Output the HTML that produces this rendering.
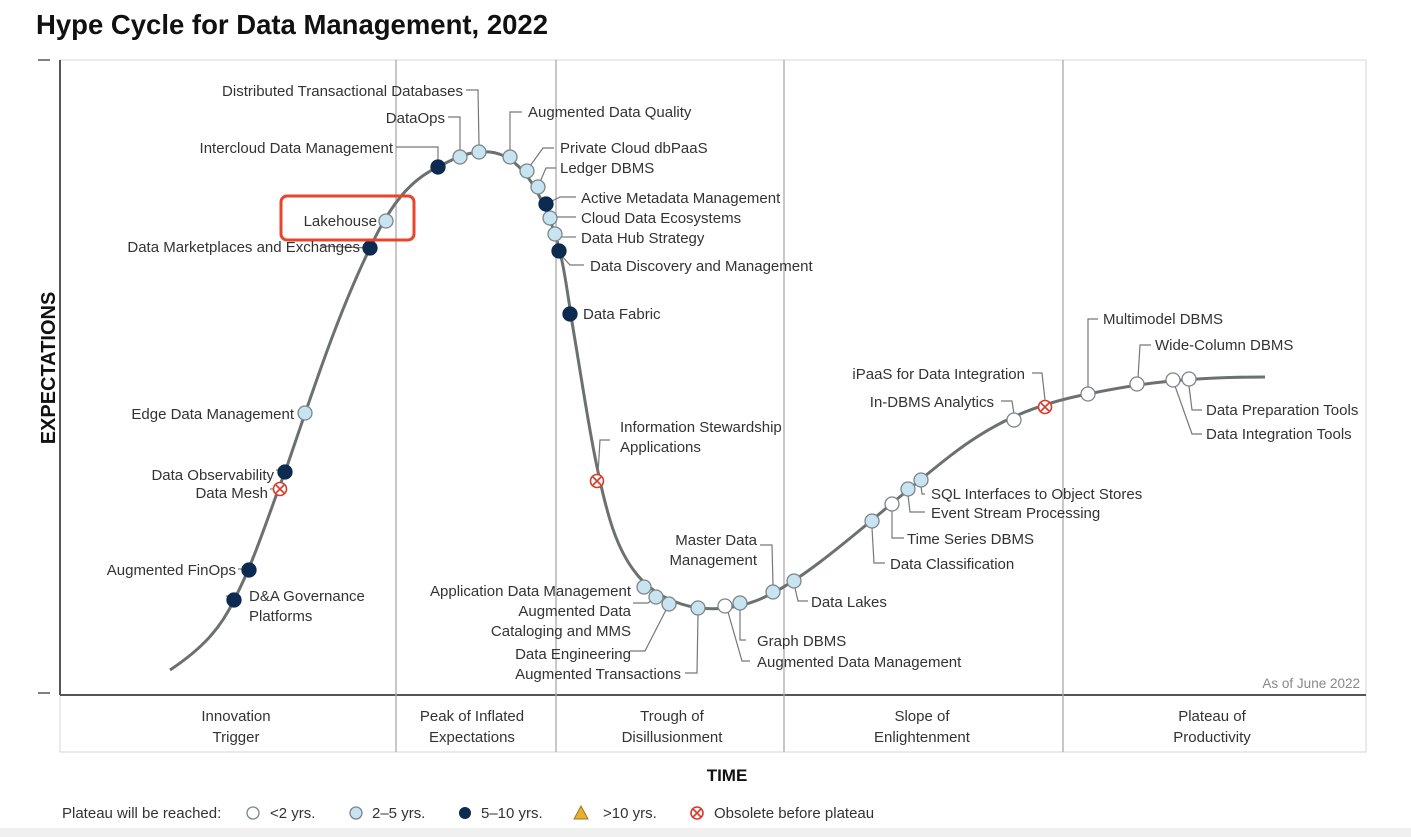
<!DOCTYPE html>
<html><head><meta charset="utf-8"><style>
html,body{margin:0;padding:0;background:#fff}
svg{display:block}
text{font-family:"Liberation Sans",sans-serif;fill:#333;font-size:15px}
.r{text-anchor:end}
.m{text-anchor:middle}
.l{fill:none;stroke:#777;stroke-width:1.2}
</style></head><body>
<svg width="1411" height="837" viewBox="0 0 1411 837" xmlns="http://www.w3.org/2000/svg">
<rect width="1411" height="837" fill="#fff"/>
<rect x="0" y="828" width="1411" height="9" fill="#f0f0f0"/>
<text x="36" y="34" style="font-size:27.5px;font-weight:bold;fill:#111">Hype Cycle for Data Management, 2022</text>
<rect x="60" y="60" width="1306" height="692" fill="none" stroke="#d6d6d6" stroke-width="1"/>
<line x1="60" y1="60" x2="60" y2="695" stroke="#555" stroke-width="2"/>
<line x1="60" y1="695" x2="1366" y2="695" stroke="#555" stroke-width="2"/>
<line x1="38" y1="60" x2="50" y2="60" stroke="#555" stroke-width="1.5"/>
<line x1="38" y1="693" x2="50" y2="693" stroke="#555" stroke-width="1.5"/>
<g stroke="#aaa" stroke-width="1.3">
<line x1="396" y1="60" x2="396" y2="752"/><line x1="556" y1="60" x2="556" y2="752"/>
<line x1="784" y1="60" x2="784" y2="752"/><line x1="1063" y1="60" x2="1063" y2="752"/>
</g>
<text x="1360" y="688" class="r" style="fill:#888;font-size:13.5px">As of June 2022</text>
<g style="fill:#444">
<text x="236" y="721" class="m">Innovation</text><text x="236" y="742" class="m">Trigger</text>
<text x="472" y="721" class="m">Peak of Inflated</text><text x="472" y="742" class="m">Expectations</text>
<text x="672" y="721" class="m">Trough of</text><text x="672" y="742" class="m">Disillusionment</text>
<text x="922" y="721" class="m">Slope of</text><text x="922" y="742" class="m">Enlightenment</text>
<text x="1212" y="721" class="m">Plateau of</text><text x="1212" y="742" class="m">Productivity</text>
</g>
<text x="727" y="781" class="m" style="font-size:17px;font-weight:bold;fill:#111">TIME</text>
<text transform="translate(55,368) rotate(-90)" class="m" style="font-size:20px;font-weight:bold;fill:#111">EXPECTATIONS</text>
<path d="M170,670 C200,650 220,630 234,600 C255,560 270,510 285,472 C310,400 335,320 370,248 C390,205 410,180 438,167 C455,158 470,150 490,152 C520,155 540,190 555,234 C565,265 568,300 575,340 C585,400 595,470 610,520 C625,570 650,600 698,608 C740,612 770,600 820,562 C860,532 900,495 950,456 C990,425 1030,405 1088,394 C1140,383 1190,377 1265,377" fill="none" stroke="#6b716f" stroke-width="3"/>
<g class="l">
<polyline points="276,470 285,470"/>
<polyline points="270,489 280,489"/>
<polyline points="238,569 249,569"/>
<polyline points="320,246 370,248"/>
<polyline points="396,147 438,147 438,160"/>
<polyline points="448,117 460,117 460,150"/>
<polyline points="466,90 478,90 479,145"/>
<polyline points="522,112 510,112 510,150"/>
<polyline points="554,148 543,148 530,166"/>
<polyline points="556,168 546,168 540,182"/>
<polyline points="576,197 560,197 548,203"/>
<polyline points="576,217 556,217"/>
<polyline points="576,237 561,237"/>
<polyline points="584,265 570,265 561,255"/>
<polyline points="610,440 600,440 598,474"/>
<polyline points="760,545 772,545 773,585"/>
<polyline points="633,603 648,603 654,598"/>
<polyline points="630,651 645,651 667,608"/>
<polyline points="685,673 697,673 698,614"/>
<polyline points="746,640 740,640 740,610"/>
<polyline points="750,661 742,661 728,612"/>
<polyline points="808,601 798,601 795,588"/>
<polyline points="885,563 874,563 872,528"/>
<polyline points="904,538 892,538 892,510"/>
<polyline points="925,512 910,512 908,495"/>
<polyline points="925,494 922,494 921,486"/>
<polyline points="1001,401 1012,401 1014,414"/>
<polyline points="1032,373 1042,373 1045,400"/>
<polyline points="1098,319 1088,319 1088,388"/>
<polyline points="1151,345 1140,345 1138,378"/>
<polyline points="1202,410 1192,410 1189,386"/>
<polyline points="1202,434 1192,434 1175,386"/>
<polyline points="226,596 234,596"/>
</g>
<g stroke="#7b8589" stroke-width="1.3">
<g fill="#c7e4f0">
<circle cx="305" cy="413" r="7"/><circle cx="386" cy="221" r="7"/><circle cx="460" cy="157" r="7"/>
<circle cx="479" cy="152" r="7"/><circle cx="510" cy="157" r="7"/><circle cx="527" cy="171" r="7"/>
<circle cx="538" cy="187" r="7"/><circle cx="550" cy="218" r="7"/><circle cx="555" cy="234" r="7"/>
<circle cx="644" cy="587" r="7"/><circle cx="656" cy="597" r="7"/><circle cx="669" cy="604" r="7"/>
<circle cx="698" cy="608" r="7"/><circle cx="740" cy="603" r="7"/><circle cx="773" cy="592" r="7"/>
<circle cx="794" cy="581" r="7"/><circle cx="872" cy="521" r="7"/><circle cx="908" cy="489" r="7"/>
<circle cx="921" cy="480" r="7"/>
</g>
<g fill="#0d2a50" stroke="#0d2a50">
<circle cx="234" cy="600" r="7"/><circle cx="249" cy="570" r="7"/><circle cx="285" cy="472" r="7"/>
<circle cx="370" cy="248" r="7"/><circle cx="438" cy="167" r="7"/><circle cx="546" cy="204" r="7"/>
<circle cx="559" cy="251" r="7"/><circle cx="570" cy="314" r="7"/>
</g>
<g fill="#fff">
<circle cx="725" cy="606" r="7"/><circle cx="892" cy="504" r="7"/><circle cx="1014" cy="420" r="7"/>
<circle cx="1088" cy="394" r="7"/><circle cx="1137" cy="384" r="7"/><circle cx="1173" cy="380" r="7"/>
<circle cx="1189" cy="379" r="7"/>
</g>
</g>
<g stroke="#d93a2b" stroke-width="1.6" fill="#fff">
<circle cx="280" cy="489" r="6.5"/><path d="M276,485 L284,493 M284,485 L276,493"/>
<circle cx="597" cy="481" r="6.5"/><path d="M593,477 L601,485 M601,477 L593,485"/>
<circle cx="1045" cy="407" r="6.5"/><path d="M1041,403 L1049,411 M1049,403 L1041,411"/>
</g>
<rect x="281" y="196" width="133" height="44" rx="6" fill="none" stroke="#e8452c" stroke-width="3"/>
<text x="463" y="96" class="r">Distributed Transactional Databases</text>
<text x="445" y="123" class="r">DataOps</text>
<text x="393" y="153" class="r">Intercloud Data Management</text>
<text x="377" y="226" class="r">Lakehouse</text>
<text x="360" y="252" class="r">Data Marketplaces and Exchanges</text>
<text x="294" y="419" class="r">Edge Data Management</text>
<text x="274" y="480" class="r">Data Observability</text>
<text x="268" y="498" class="r">Data Mesh</text>
<text x="236" y="575" class="r">Augmented FinOps</text>
<text x="249" y="601">D&amp;A Governance</text>
<text x="249" y="621">Platforms</text>
<text x="528" y="117">Augmented Data Quality</text>
<text x="560" y="153">Private Cloud dbPaaS</text>
<text x="560" y="173">Ledger DBMS</text>
<text x="581" y="203">Active Metadata Management</text>
<text x="581" y="223">Cloud Data Ecosystems</text>
<text x="581" y="243">Data Hub Strategy</text>
<text x="590" y="271">Data Discovery and Management</text>
<text x="583" y="319">Data Fabric</text>
<text x="620" y="432">Information Stewardship</text>
<text x="620" y="452">Applications</text>
<text x="757" y="545" class="r">Master Data</text>
<text x="757" y="565" class="r">Management</text>
<text x="631" y="596" class="r">Application Data Management</text>
<text x="631" y="616" class="r">Augmented Data</text>
<text x="631" y="636" class="r">Cataloging and MMS</text>
<text x="631" y="659" class="r">Data Engineering</text>
<text x="681" y="679" class="r">Augmented Transactions</text>
<text x="757" y="646">Graph DBMS</text>
<text x="757" y="667">Augmented Data Management</text>
<text x="811" y="607">Data Lakes</text>
<text x="890" y="569">Data Classification</text>
<text x="907" y="544">Time Series DBMS</text>
<text x="931" y="518">Event Stream Processing</text>
<text x="931" y="499">SQL Interfaces to Object Stores</text>
<text x="994" y="407" class="r">In-DBMS Analytics</text>
<text x="1025" y="379" class="r">iPaaS for Data Integration</text>
<text x="1103" y="324">Multimodel DBMS</text>
<text x="1155" y="350">Wide-Column DBMS</text>
<text x="1206" y="415">Data Preparation Tools</text>
<text x="1206" y="439">Data Integration Tools</text>
<text x="62" y="818">Plateau will be reached:</text>
<circle cx="253" cy="813" r="6" fill="#fff" stroke="#7b8589" stroke-width="1.3"/>
<text x="270" y="818">&lt;2 yrs.</text>
<circle cx="356" cy="813" r="6" fill="#c7e4f0" stroke="#7b8589" stroke-width="1.3"/>
<text x="372" y="818">2–5 yrs.</text>
<circle cx="465" cy="813" r="6" fill="#0d2a50"/>
<text x="481" y="818">5–10 yrs.</text>
<path d="M581,806 L588,819 L574,819 Z" fill="#e8b030" stroke="#a07818" stroke-width="1"/>
<text x="603" y="818">&gt;10 yrs.</text>
<circle cx="697" cy="813" r="6" fill="#fff" stroke="#d93a2b" stroke-width="1.6"/>
<path d="M693,809 L701,817 M701,809 L693,817" stroke="#d93a2b" stroke-width="1.6"/>
<text x="714" y="818">Obsolete before plateau</text>
</svg>
</body></html>
